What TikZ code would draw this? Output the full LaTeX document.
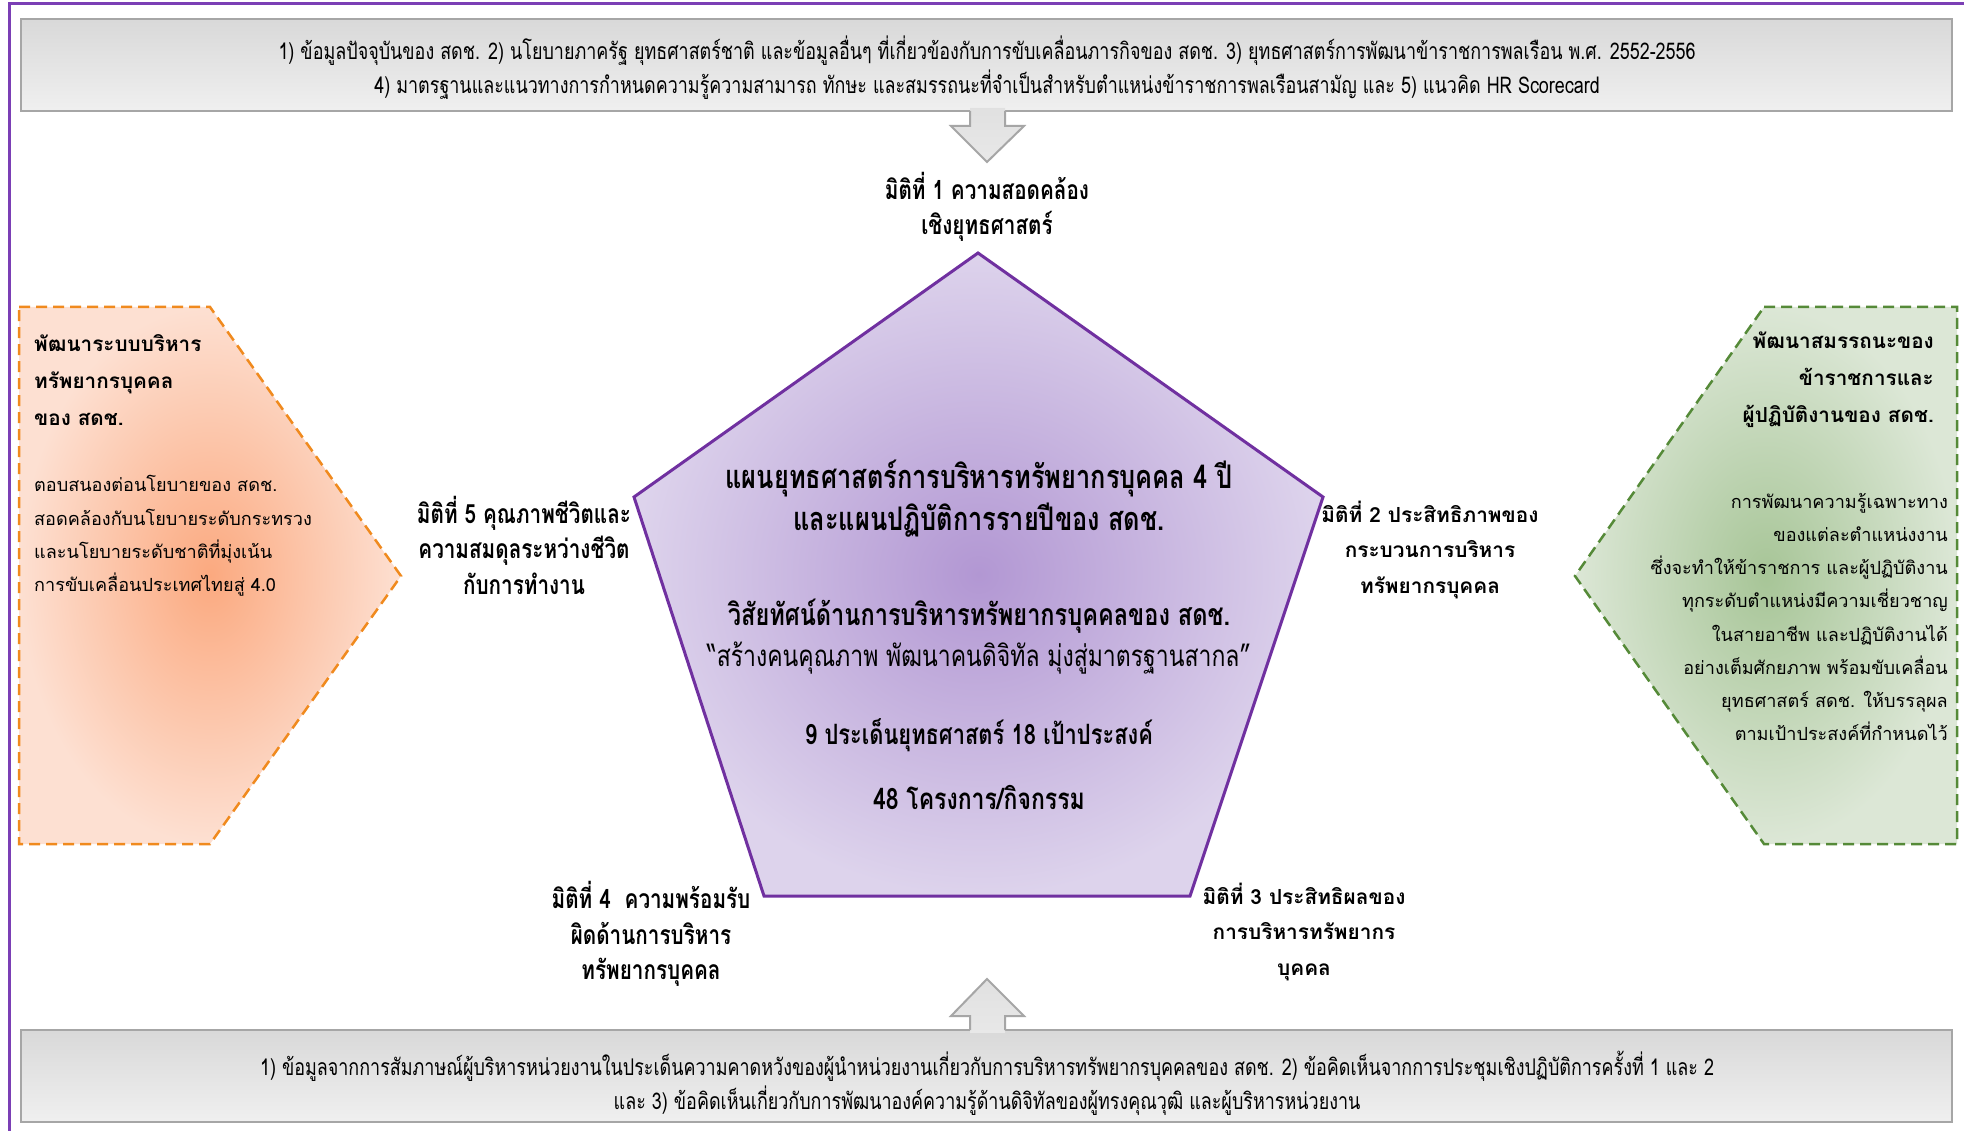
\documentclass[tikz,border=0pt]{standalone}
\usepackage{fontspec}
\setmainfont{Liberation Sans}
\newfontfamily\thai[Script=Thai]{Loma}
\newfontfamily\thaic[Script=Thai,FakeStretch=0.78]{Loma}
\definecolor{frameP}{HTML}{7B3FB5}
\definecolor{boxEdge}{HTML}{A6A6A6}
\definecolor{penEdge}{HTML}{7030A0}
\definecolor{penIn}{HTML}{B297D3}
\definecolor{penOut}{HTML}{DDD3EC}
\definecolor{orEdge}{HTML}{F08A1E}
\definecolor{orIn}{HTML}{FBA97F}
\definecolor{orOut}{HTML}{FDE0D2}
\definecolor{grEdge}{HTML}{558A38}
\definecolor{grIn}{HTML}{A7C597}
\definecolor{grOut}{HTML}{DCE7D6}
\begin{document}
\begin{tikzpicture}[x=1pt,y=-1pt,
  graybox/.style={draw=boxEdge,line width=2pt,top color=black!15,bottom color=black!6},
  grayarrow/.style={top color=black!12,bottom color=black!9},
  boxtext/.style={inner sep=0pt,align=center,font=\thaic\fontsize{23}{34}\selectfont},
  pentext/.style={inner sep=0pt,align=center,font=\thaic\bfseries\fontsize{32.5}{42}\selectfont},
  penline/.style={inner sep=0pt,align=center,font=\thaic\bfseries\fontsize{29.5}{42}\selectfont},
  dimc/.style={inner sep=0pt,align=center,font=\thaic\bfseries\fontsize{26.5}{35.5}\selectfont},
  dimt/.style={inner sep=0pt,align=center,font=\thai\bfseries\fontsize{20.8}{35.5}\selectfont},
  sidetitle/.style={inner sep=0pt,font=\thai\bfseries\fontsize{20.7}{37}\selectfont},
  sidebody/.style={inner sep=0pt,font=\thai\fontsize{18.1}{33.2}\selectfont}]
\useasboundingbox (0,0) rectangle (1964,1131);
\fill[white] (0,0) rectangle (1964,1131);
% frame
\draw[frameP,line width=3pt] (9,1131) -- (9,4) -- (1964,4);
% top box and arrow
\path[graybox] (21,19) rectangle (1952,111);
\path[grayarrow] (970,108) -- (970,126) -- (951,126) -- (987,162) -- (1024,126) -- (1005,126) -- (1005,108) -- cycle;
\draw[boxEdge,line width=2pt,line join=miter] (970,111) -- (970,126) -- (951,126) -- (987,162) -- (1024,126) -- (1005,126) -- (1005,111);
\node[boxtext] (topt) at (987,68) {1) ข้อมูลปัจจุบันของ สดช. 2) นโยบายภาครัฐ ยุทธศาสตร์ชาติ และข้อมูลอื่นๆ ที่เกี่ยวข้องกับการขับเคลื่อนภารกิจของ สดช. 3) ยุทธศาสตร์การพัฒนาข้าราชการพลเรือน พ.ศ. 2552-2556\\4) มาตรฐานและแนวทางการกำหนดความรู้ความสามารถ ทักษะ และสมรรถนะที่จำเป็นสำหรับตำแหน่งข้าราชการพลเรือนสามัญ และ 5) แนวคิด HR Scorecard};
% bottom box and arrow
\path[graybox] (21,1030) rectangle (1952,1122);
\path[grayarrow] (970,1033) -- (970,1016) -- (951,1016) -- (987,979) -- (1024,1016) -- (1005,1016) -- (1005,1033) -- cycle;
\draw[boxEdge,line width=2pt,line join=miter] (970,1030) -- (970,1016) -- (951,1016) -- (987,979) -- (1024,1016) -- (1005,1016) -- (1005,1030);
\node[boxtext] (bott) at (987,1083) {1) ข้อมูลจากการสัมภาษณ์ผู้บริหารหน่วยงานในประเด็นความคาดหวังของผู้นำหน่วยงานเกี่ยวกับการบริหารทรัพยากรบุคคลของ สดช. 2) ข้อคิดเห็นจากการประชุมเชิงปฏิบัติการครั้งที่ 1 และ 2\\และ 3) ข้อคิดเห็นเกี่ยวกับการพัฒนาองค์ความรู้ด้านดิจิทัลของผู้ทรงคุณวุฒิ และผู้บริหารหน่วยงาน};
% left shape
\shade[inner color=orIn,outer color=orOut] (19,307) -- (210,307) -- (401,576) -- (210,844) -- (19,844) -- cycle;
\draw[orEdge,line width=2.5pt,dash pattern=on 11pt off 6pt] (19,307) -- (210,307) -- (401,576) -- (210,844) -- (19,844) -- cycle;
\node[sidetitle,anchor=west,align=left] (ltitle) at (34,380) {พัฒนาระบบบริหาร\\ทรัพยากรบุคคล\\ของ สดช.};
\node[sidebody,anchor=west,align=left] (lbody) at (34,536) {ตอบสนองต่อนโยบายของ สดช.\\สอดคล้องกับนโยบายระดับกระทรวง\\และนโยบายระดับชาติที่มุ่งเน้น\\การขับเคลื่อนประเทศไทยสู่ 4.0};
% right shape
\shade[inner color=grIn,outer color=grOut] (1764,307) -- (1957,307) -- (1957,844) -- (1764,844) -- (1575,576) -- cycle;
\draw[grEdge,line width=2.5pt,dash pattern=on 11pt off 6pt] (1764,307) -- (1957,307) -- (1957,844) -- (1764,844) -- (1575,576) -- cycle;
\node[sidetitle,anchor=east,align=right] (rtitle) at (1934,380) {พัฒนาสมรรถนะของ\\ข้าราชการและ\\ผู้ปฏิบัติงานของ สดช.};
\node[sidebody,anchor=east,align=right] (rbody) at (1948,617) {การพัฒนาความรู้เฉพาะทาง\\ของแต่ละตำแหน่งงาน\\ซึ่งจะทำให้ข้าราชการ และผู้ปฏิบัติงาน\\ทุกระดับตำแหน่งมีความเชี่ยวชาญ\\ในสายอาชีพ และปฏิบัติงานได้\\อย่างเต็มศักยภาพ พร้อมขับเคลื่อน\\ยุทธศาสตร์ สดช. ให้บรรลุผล\\ตามเป้าประสงค์ที่กำหนดไว้};
% pentagon
\shade[inner color=penIn,outer color=penOut] (978,253) -- (1323,497) -- (1190,896) -- (764,896) -- (634,497) -- cycle;
\draw[penEdge,line width=3pt,line join=miter] (978,253) -- (1323,497) -- (1190,896) -- (764,896) -- (634,497) -- cycle;
\node[pentext] (plan) at (979,499) {แผนยุทธศาสตร์การบริหารทรัพยากรบุคคล 4 ปี\\และแผนปฏิบัติการรายปีของ สดช.};
\node[penline,font=\thaic\bfseries\fontsize{30.2}{42}\selectfont] (vision) at (979,616) {วิสัยทัศน์ด้านการบริหารทรัพยากรบุคคลของ สดช.};
\node[penline,font=\thaic\fontsize{29.5}{42}\selectfont] (quote) at (979,658) {“สร้างคนคุณภาพ พัฒนาคนดิจิทัล มุ่งสู่มาตรฐานสากล”};
\node[penline,font=\thaic\bfseries\fontsize{28}{42}\selectfont] (issues) at (979,735) {9 ประเด็นยุทธศาสตร์ 18 เป้าประสงค์};
\node[penline] (projects) at (979,797) {48 โครงการ/กิจกรรม};
% dimension labels
\node[dimc] (d1) at (987,207) {มิติที่ 1 ความสอดคล้อง\\เชิงยุทธศาสตร์};
\node[dimt] (d2) at (1430,550) {มิติที่ 2 ประสิทธิภาพของ\\กระบวนการบริหาร\\ทรัพยากรบุคคล};
\node[dimt] (d3) at (1304,932) {มิติที่ 3 ประสิทธิผลของ\\การบริหารทรัพยากร\\บุคคล};
\node[dimc] (d4) at (651,934) {มิติที่ 4~~ความพร้อมรับ\\ผิดด้านการบริหาร\\ทรัพยากรบุคคล};
\node[dimc] (d5) at (524,545) {มิติที่ 5 คุณภาพชีวิตและ\\ความสมดุลระหว่างชีวิต\\กับการทำงาน};
\end{tikzpicture}
\end{document}
